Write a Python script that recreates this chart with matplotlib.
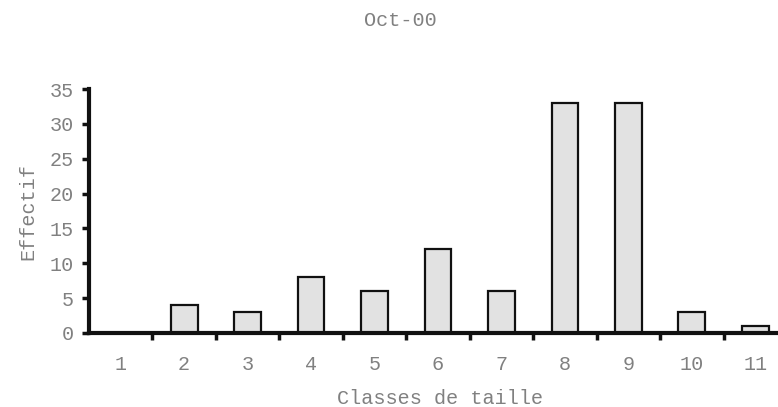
import matplotlib
matplotlib.use("Agg")
import matplotlib.pyplot as plt
import numpy as np

categories = ["1", "2", "3", "4", "5", "6", "7", "8", "9", "10", "11"]
values = [0, 4, 3, 8, 6, 12, 6, 33, 33, 3, 1]
yticks = [0, 5, 10, 15, 20, 25, 30, 35]

plt.rcParams['font.family'] = ['Liberation Mono', 'DejaVu Sans Mono']
txt = '#808080'
fs = 14.5

fig = plt.figure(figsize=(7.78, 4.07), dpi=100)
ax = fig.add_axes([89/778, 74/407, 698/778, 244/407])
x = np.arange(1, len(categories) + 1)
ax.bar(x, values, width=0.42, color='#e2e2e2', edgecolor='#111111', linewidth=1.6, zorder=2)
ax.set_xlim(0.5, len(categories) + 0.5)
ax.set_ylim(0, 35)
for s in ['top', 'right']:
    ax.spines[s].set_visible(False)
for s in ['left', 'bottom']:
    ax.spines[s].set_linewidth(3)
    ax.spines[s].set_color('#111111')
    ax.spines[s].set_zorder(3)
ax.set_yticks(yticks)
ax.set_yticklabels([str(v) for v in yticks], color=txt, fontsize=fs)
ax.tick_params(axis='y', direction='out', length=5, width=2.5, color='#111111', pad=6)
ax.set_xticks(np.arange(1.5, len(categories) + 0.5, 1.0))
ax.set_xticklabels([])
ax.tick_params(axis='x', direction='out', length=5, width=2.5, color='#111111')
ax.set_xticks(x, minor=True)
ax.set_xticklabels(categories, minor=True, color=txt, fontsize=fs)
ax.tick_params(axis='x', which='minor', length=0, pad=16)

fig.text(400/778, 1 - 20/407, "Oct-00", ha='center', va='center', color=txt, fontsize=fs)
fig.text(28/778, 1 - 212/407, "Effectif", ha='center', va='center', rotation=90, color=txt, fontsize=fs)
fig.text(440/778, 1 - 398/407, "Classes de taille", ha='center', va='center', color=txt, fontsize=fs)

fig.savefig("out.png", dpi=100)
